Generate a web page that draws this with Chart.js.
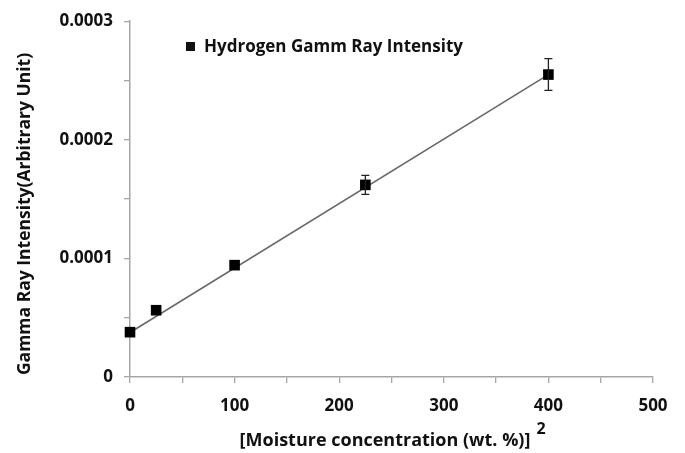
<!DOCTYPE html>
<html>
<head>
<meta charset="utf-8">
<script src="https://cdn.jsdelivr.net/npm/chart.js@4"></script>
<style>
  html, body { margin: 0; padding: 0; background: #fff; }
  #wrap { width: 685px; height: 453px; }
</style>
</head>
<body>
<div id="wrap"><canvas id="gammaChart"></canvas></div>
<script>
// moisture squared (wt.%^2) vs hydrogen gamma intensity
const moistureSq = [0, 25, 100, 225, 400];
const intensity = [0.0000378, 0.0000563, 0.0000943, 0.000162, 0.000255];
const intensityErr = [0, 0, 0, 0.000008, 0.0000134];
// linear trend line end points
const trendX = [0, 400];
const trendY = [0.0000375, 0.000255];

const seriesName = 'Hydrogen Gamm Ray Intensity';
const xTitle = '[Moisture concentration (wt. %)]';
const yTitle = 'Gamma Ray Intensity(Arbitrary Unit)';

const FONT = '"Open Sans", Lato, sans-serif';
const axisGray = '#a6a6a6';

// error bars, legend and axis titles
const extras = {
    id: 'extras',
    afterDatasetsDraw(chart) {
        const ctx = chart.ctx;
        const xs = chart.scales.x, ys = chart.scales.y;
        ctx.save();
        ctx.strokeStyle = '#222';
        ctx.lineWidth = 1.3;
        moistureSq.forEach((mx, i) => {
            if (!intensityErr[i]) return;
            const px = xs.getPixelForValue(mx);
            const top = ys.getPixelForValue(intensity[i] + intensityErr[i]);
            const bot = ys.getPixelForValue(intensity[i] - intensityErr[i]);
            ctx.beginPath();
            ctx.moveTo(px, top); ctx.lineTo(px, bot);
            ctx.moveTo(px - 4, top); ctx.lineTo(px + 4, top);
            ctx.moveTo(px - 4, bot); ctx.lineTo(px + 4, bot);
            ctx.stroke();
        });
        ctx.restore();
    },
    afterDraw(chart) {
        const ctx = chart.ctx;
        ctx.save();
        ctx.fillStyle = '#111';
        // legend
        ctx.fillRect(186, 42, 9, 9);
        ctx.font = 'bold 17px ' + FONT;
        ctx.textBaseline = 'middle';
        ctx.textAlign = 'left';
        ctx.fillText(seriesName, 204, 47);
        // x title with superscript
        ctx.font = 'bold 18px ' + FONT;
        const w = ctx.measureText(xTitle).width;
        const x0 = 385 - w / 2;
        ctx.fillText(xTitle, x0, 441);
        ctx.font = 'bold 16px ' + FONT;
        ctx.fillText('2', x0 + w + 6, 429);
        // y title
        ctx.translate(25, 214);
        ctx.rotate(-Math.PI / 2);
        ctx.textAlign = 'center';
        ctx.font = 'bold 17.5px ' + FONT;
        ctx.fillText(yTitle, 0, 0);
        ctx.restore();
    }
};

new Chart(document.getElementById('gammaChart'), {
    type: 'scatter',
    data: {
        datasets: [{
            label: seriesName,
            data: moistureSq.map((x, i) => ({ x: x, y: intensity[i] })),
            pointStyle: 'rect',
            pointRadius: 7.5,
            pointBackgroundColor: '#000',
            pointBorderColor: '#000',
            pointBorderWidth: 0,
            clip: false,
            order: 1
        }, {
            label: 'Linear',
            type: 'line',
            data: trendX.map((x, i) => ({ x: x, y: trendY[i] })),
            borderColor: '#686868',
            borderWidth: 1.6,
            pointRadius: 0,
            fill: false,
            order: 2
        }]
    },
    options: {
        responsive: true,
        maintainAspectRatio: false,
        animation: false,
        layout: { padding: { top: 20, right: 32, left: 0, bottom: 0 } },
        plugins: {
            legend: { display: false },
            tooltip: { enabled: false }
        },
        scales: {
            x: {
                type: 'linear',
                min: 0, max: 500,
                ticks: {
                    stepSize: 50,
                    autoSkip: false,
                    maxRotation: 0,
                    padding: 13,
                    color: '#111',
                    font: { family: FONT, size: 17, weight: 'bold' },
                    callback: v => (v % 100 === 0 ? String(v) : '')
                },
                grid: { display: true, drawOnChartArea: false, drawTicks: true, tickLength: 6, color: axisGray, lineWidth: 1.3 },
                border: { color: axisGray, width: 1.5 },
                afterFit: s => { s.height = 76; }
            },
            y: {
                min: 0, max: 0.0003,
                ticks: {
                    stepSize: 0.00005,
                    autoSkip: false,
                    padding: 11,
                    color: '#111',
                    font: { family: FONT, size: 17, weight: 'bold' },
                    callback: v => {
                        const k = Math.round(v / 0.00005);
                        if (k % 2 !== 0) return '';
                        return k === 0 ? '0' : (k / 2 * 0.0001).toFixed(4);
                    }
                },
                grid: { display: true, drawOnChartArea: false, drawTicks: true, tickLength: 6, color: axisGray, lineWidth: 1.3 },
                border: { color: axisGray, width: 1.5 },
                afterFit: s => { s.width = 130; }
            }
        }
    },
    plugins: [extras]
});
</script>
</body>
</html>
